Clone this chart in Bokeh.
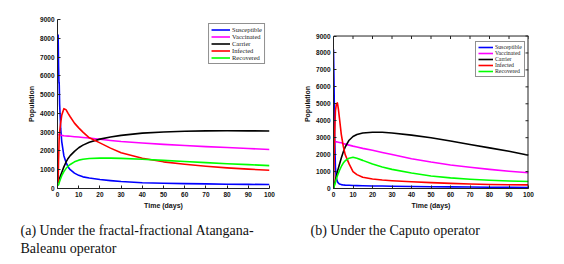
import math
from bokeh.plotting import figure
from bokeh.layouts import row
from bokeh.models import Range1d, FixedTicker, Title, Span
from bokeh.embed import file_html
from bokeh.resources import INLINE

# ---------------- data ----------------
series_names = ["Susceptible", "Vaccinated", "Carrier", "Infected", "Recovered"]
series_colors = ["#0000ff", "#ff00ff", "#000000", "#ff0000", "#00ff00"]

# (a) fractal-fractional Atangana-Baleanu
t_a = [0.3, 0.5, 0.7, 0.8, 1, 1.5, 2, 3, 4, 5, 6, 8, 10, 12, 15, 20, 25, 30, 40, 50, 60, 70, 80, 90, 100]
S_a = [8200, 6500, 5600, 5650, 4500, 3200, 2500, 1750, 1400, 1150, 1000, 820, 700, 620, 560, 480, 420, 370, 310, 280, 260, 245, 230, 220, 210]
V_a = [2880, 2870, 2860, 2860, 2850, 2840, 2830, 2810, 2800, 2790, 2780, 2760, 2740, 2720, 2690, 2620, 2560, 2500, 2420, 2350, 2290, 2230, 2180, 2130, 2080]
C_a = [300, 400, 480, 520, 550, 700, 850, 1150, 1400, 1600, 1750, 1980, 2170, 2310, 2460, 2630, 2740, 2830, 2950, 3010, 3050, 3070, 3075, 3070, 3060]
I_a = [300, 1500, 2300, 2700, 3000, 3500, 3900, 4250, 4200, 4000, 3820, 3480, 3230, 3000, 2700, 2430, 2150, 1900, 1610, 1420, 1290, 1185, 1100, 1030, 975]
R_a = [150, 200, 270, 300, 380, 530, 680, 900, 1060, 1190, 1280, 1420, 1510, 1560, 1600, 1620, 1620, 1605, 1560, 1500, 1440, 1380, 1320, 1270, 1220]

# (b) Caputo
t_b = [0, 0.3, 0.6, 1, 1.5, 2, 2.5, 3, 4, 5, 6, 8, 10, 12, 15, 20, 25, 30, 40, 50, 60, 70, 80, 90, 100]
S_b = [8200, 6000, 3000, 1200, 600, 400, 320, 270, 230, 210, 200, 190, 180, 170, 160, 150, 145, 135, 120, 105, 95, 85, 75, 68, 60]
V_b = [2780, 2770, 2765, 2760, 2750, 2740, 2730, 2720, 2700, 2650, 2620, 2560, 2500, 2450, 2370, 2260, 2130, 2010, 1760, 1560, 1390, 1250, 1130, 1020, 930]
C_b = [0, 150, 300, 500, 750, 1000, 1200, 1400, 1800, 2150, 2450, 2850, 3070, 3190, 3280, 3320, 3320, 3280, 3150, 3000, 2800, 2600, 2400, 2200, 1960]
I_b = [100, 1500, 3300, 4600, 5000, 5050, 4700, 4200, 3200, 2500, 2000, 1450, 1000, 820, 660, 560, 500, 460, 400, 345, 300, 265, 240, 225, 215]
R_b = [0, 100, 220, 380, 580, 750, 900, 1050, 1300, 1500, 1640, 1790, 1840, 1780, 1660, 1440, 1270, 1130, 910, 740, 625, 545, 490, 445, 410]

X_MAX = 100
Y_MAX = 9000
x_ticks = [0, 10, 20, 30, 40, 50, 60, 70, 80, 90, 100]
y_ticks = [0, 1000, 2000, 3000, 4000, 5000, 6000, 7000, 8000, 9000]
x_label = "Time (days)"
y_label = "Population"

caption_a = "(a) Under the fractal-fractional Atangana-\nBaleanu operator"
caption_b = "(b) Under the Caputo operator"

TICK_FONT = "Liberation Sans"
SERIF = "Liberation Serif"
AXIS_COLOR = "#222222"
TEXT_COLOR = "#111111"


def style_axis(ax):
    ax.axis_line_color = AXIS_COLOR
    ax.axis_line_width = 1
    ax.major_tick_in = 3
    ax.major_tick_out = 0
    ax.major_tick_line_color = AXIS_COLOR
    ax.minor_tick_line_color = None
    ax.major_label_text_font = TICK_FONT
    ax.major_label_text_font_style = "bold"
    ax.major_label_text_font_size = "6.5px"
    ax.major_label_text_color = TEXT_COLOR
    ax.major_label_standoff = 3
    ax.axis_label_text_font = TICK_FONT
    ax.axis_label_text_font_style = "bold"
    ax.axis_label_text_font_size = "7px"
    ax.axis_label_text_color = TEXT_COLOR
    ax.axis_label_standoff = 2


def add_caption(p, text, offset, standoff):
    p.add_layout(Title(text=text, align="left", offset=offset, standoff=standoff,
                       text_font=SERIF, text_font_size="14px", text_line_height=1.2,
                       text_font_style="normal", text_color=TEXT_COLOR), "below")


def make_plot(t, series, bl, br, fw, y_end, boxed, legend_font, glyph_w, item_h, legend_loc):
    p = figure(frame_width=fw, frame_height=169, title=None,
               min_border_left=bl, min_border_right=br,
               min_border_top=19, min_border_bottom=0,
               x_range=Range1d(0, X_MAX), y_range=Range1d(0, y_end),
               output_backend="svg", toolbar_location=None)
    p.xgrid.visible = False
    p.ygrid.visible = False
    p.background_fill_color = "white"
    p.border_fill_color = "white"
    p.outline_line_color = None
    for name, color, vals in zip(series_names, series_colors, series):
        p.line(t, vals, color=color, line_width=1.6, legend_label=name,
               line_join="round")
    p.xaxis.ticker = FixedTicker(ticks=x_ticks)
    p.yaxis.ticker = FixedTicker(ticks=y_ticks)
    p.xaxis.axis_label = x_label
    p.yaxis.axis_label = y_label
    style_axis(p.xaxis[0])
    style_axis(p.yaxis[0])
    p.yaxis.bounds = (0, Y_MAX)
    if boxed:
        # box: top edge at Y_MAX and right edge at X_MAX, with inward ticks
        p.add_layout(Span(location=Y_MAX, dimension="width",
                          line_color=AXIS_COLOR, line_width=1))
        p.segment(x0=[X_MAX], y0=[0], x1=[X_MAX], y1=[Y_MAX],
                  line_color=AXIS_COLOR, line_width=2)
        p.ray(x=x_ticks, y=[Y_MAX] * len(x_ticks), length=3, length_units="screen",
              angle=-math.pi / 2, line_color=AXIS_COLOR, line_width=1)
        p.ray(x=[X_MAX] * len(y_ticks), y=y_ticks, length=3, length_units="screen",
              angle=math.pi, line_color=AXIS_COLOR, line_width=1)
    lg = p.legend[0]
    lg.location = legend_loc
    lg.margin = 4
    lg.padding = 2
    lg.spacing = 0
    lg.glyph_width = glyph_w
    lg.glyph_height = item_h
    lg.label_height = item_h
    lg.label_standoff = 2
    lg.label_text_font = SERIF
    lg.label_text_font_size = legend_font
    lg.label_text_color = "#222222"
    lg.border_line_color = AXIS_COLOR
    lg.border_line_width = 1
    lg.background_fill_alpha = 1
    return p


# left figure: canvas 0..282, frame 57..269
p1 = make_plot(t_a, [S_a, V_a, C_a, I_a, R_a], 57, 13, 212, Y_MAX, False,
               "6.5px", 19, 7, "top_right")
# right figure: canvas 282..556, frame 333..528; 9000 sits at the box top (y = 36)
p2 = make_plot(t_b, [S_b, V_b, C_b, I_b, R_b], 51, 28, 195, 9975, True,
               "5.8px", 15, 6, (142, 111))

add_caption(p1, caption_a, -37, 19)
add_caption(p2, caption_b, -23, 19)

layout = row(p1, p2)
open("out.html", "w").write(file_html(layout, INLINE))
